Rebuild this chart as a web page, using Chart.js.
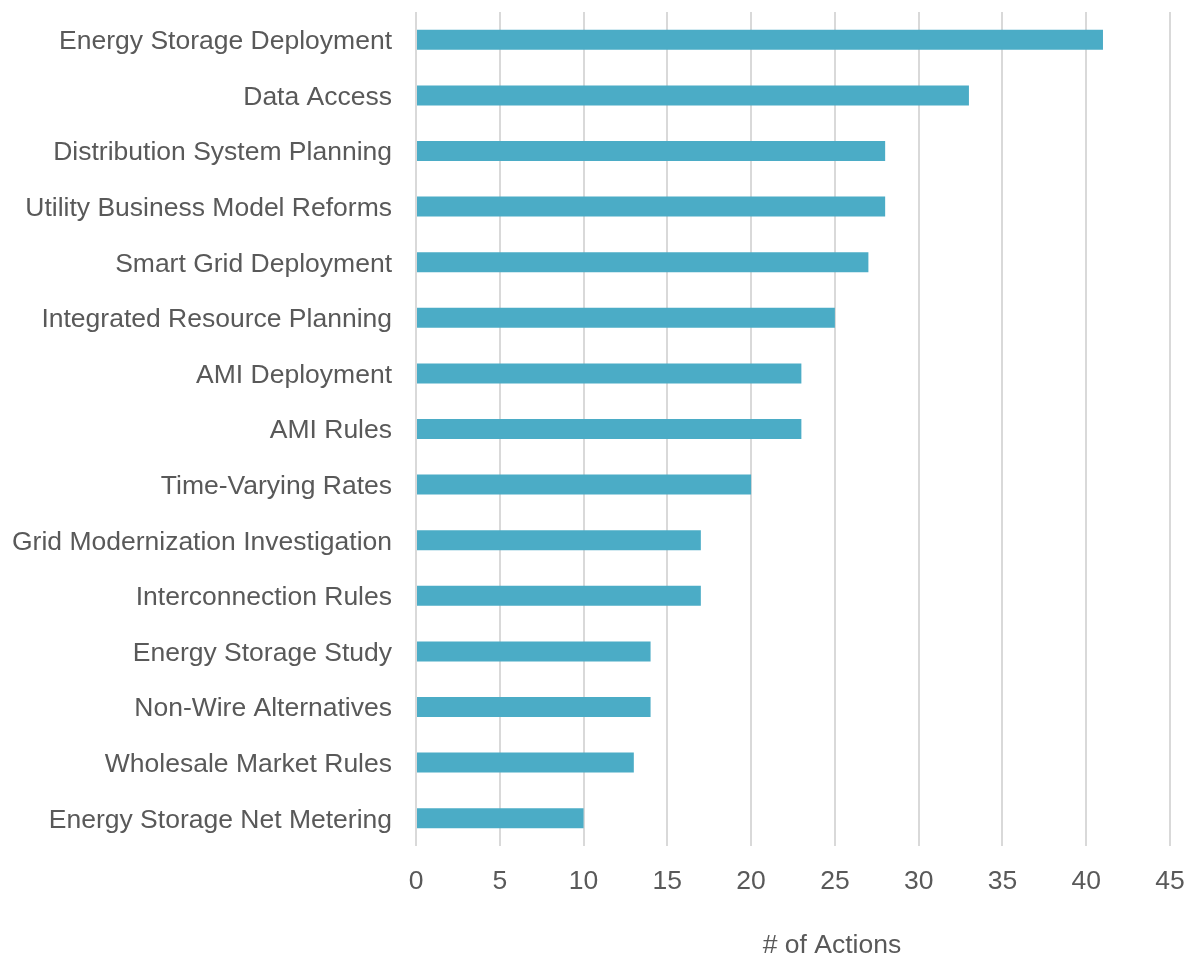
<!DOCTYPE html>
<html>
<head>
<meta charset="utf-8">
<script src="https://cdn.jsdelivr.net/npm/chart.js@4/dist/chart.umd.min.js"></script>
<style>
  html, body { margin: 0; padding: 0; background: #fff; }
  #wrap { width: 1191px; height: 955px; }
</style>
</head>
<body>
<div id="wrap"><canvas id="chart" width="1191" height="955"></canvas></div>
<script>
const categories = [
  'Energy Storage Deployment',
  'Data Access',
  'Distribution System Planning',
  'Utility Business Model Reforms',
  'Smart Grid Deployment',
  'Integrated Resource Planning',
  'AMI Deployment',
  'AMI Rules',
  'Time-Varying Rates',
  'Grid Modernization Investigation',
  'Interconnection Rules',
  'Energy Storage Study',
  'Non-Wire Alternatives',
  'Wholesale Market Rules',
  'Energy Storage Net Metering'
];
const actionCounts = [41, 33, 28, 28, 27, 25, 23, 23, 20, 17, 17, 14, 14, 13, 10];
const xTicks = [0, 5, 10, 15, 20, 25, 30, 35, 40, 45];
const xTitle = '# of Actions';

const textColor = '#595959';
const fontFamily = "'Liberation Sans', Arial, Helvetica, sans-serif";
const fontSize = 26.5;

// axis title sits a little right of the plot centre, near the bottom edge
const xTitlePlugin = {
  id: 'xTitle',
  afterDraw(chart) {
    const { ctx, chartArea } = chart;
    ctx.save();
    ctx.font = fontSize + 'px ' + fontFamily;
    ctx.fillStyle = textColor;
    ctx.textAlign = 'center';
    ctx.textBaseline = 'alphabetic';
    ctx.fillText(xTitle, (chartArea.left + chartArea.right) / 2 + 39, chart.height - 2);
    ctx.restore();
  }
};

function drawChart() {
  const ctx = document.getElementById('chart').getContext('2d');
  new Chart(ctx, {
    type: 'bar',
    data: {
      labels: categories,
      datasets: [{
        label: xTitle,
        data: actionCounts,
        backgroundColor: '#4BACC6',
        borderWidth: 0,
        barPercentage: 0.36,
        categoryPercentage: 1.0
      }]
    },
    options: {
      indexAxis: 'y',
      responsive: false,
      animation: false,
      layout: { padding: { top: 12, right: 21, left: 0, bottom: 0 } },
      plugins: {
        legend: { display: false },
        tooltip: { enabled: false }
      },
      scales: {
        x: {
          min: 0,
          max: 45,
          afterBuildTicks: (scale) => {
            scale.ticks = xTicks.map(v => ({ value: v }));
          },
          afterFit: (scale) => {
            scale.height = 955 - 12 - 834;
            scale.paddingLeft = 0;
            scale.paddingRight = 0;
          },
          grid: { color: '#d9d9d9', lineWidth: 2, drawTicks: false },
          border: { display: false },
          ticks: {
            color: textColor,
            padding: 20,
            font: { family: fontFamily, size: fontSize }
          }
        },
        y: {
          afterFit: (scale) => {
            scale.width = 416;
            scale.paddingTop = 0;
            scale.paddingBottom = 0;
          },
          grid: { display: false, drawTicks: false },
          border: { display: false },
          ticks: {
            color: textColor,
            padding: 24,
            labelOffset: 2,
            autoSkip: false,
            font: { family: fontFamily, size: fontSize }
          }
        }
      }
    },
    plugins: [xTitlePlugin]
  });
}

document.fonts.load(fontSize + "px 'Liberation Sans'").then(drawChart, drawChart);
</script>
</body>
</html>
